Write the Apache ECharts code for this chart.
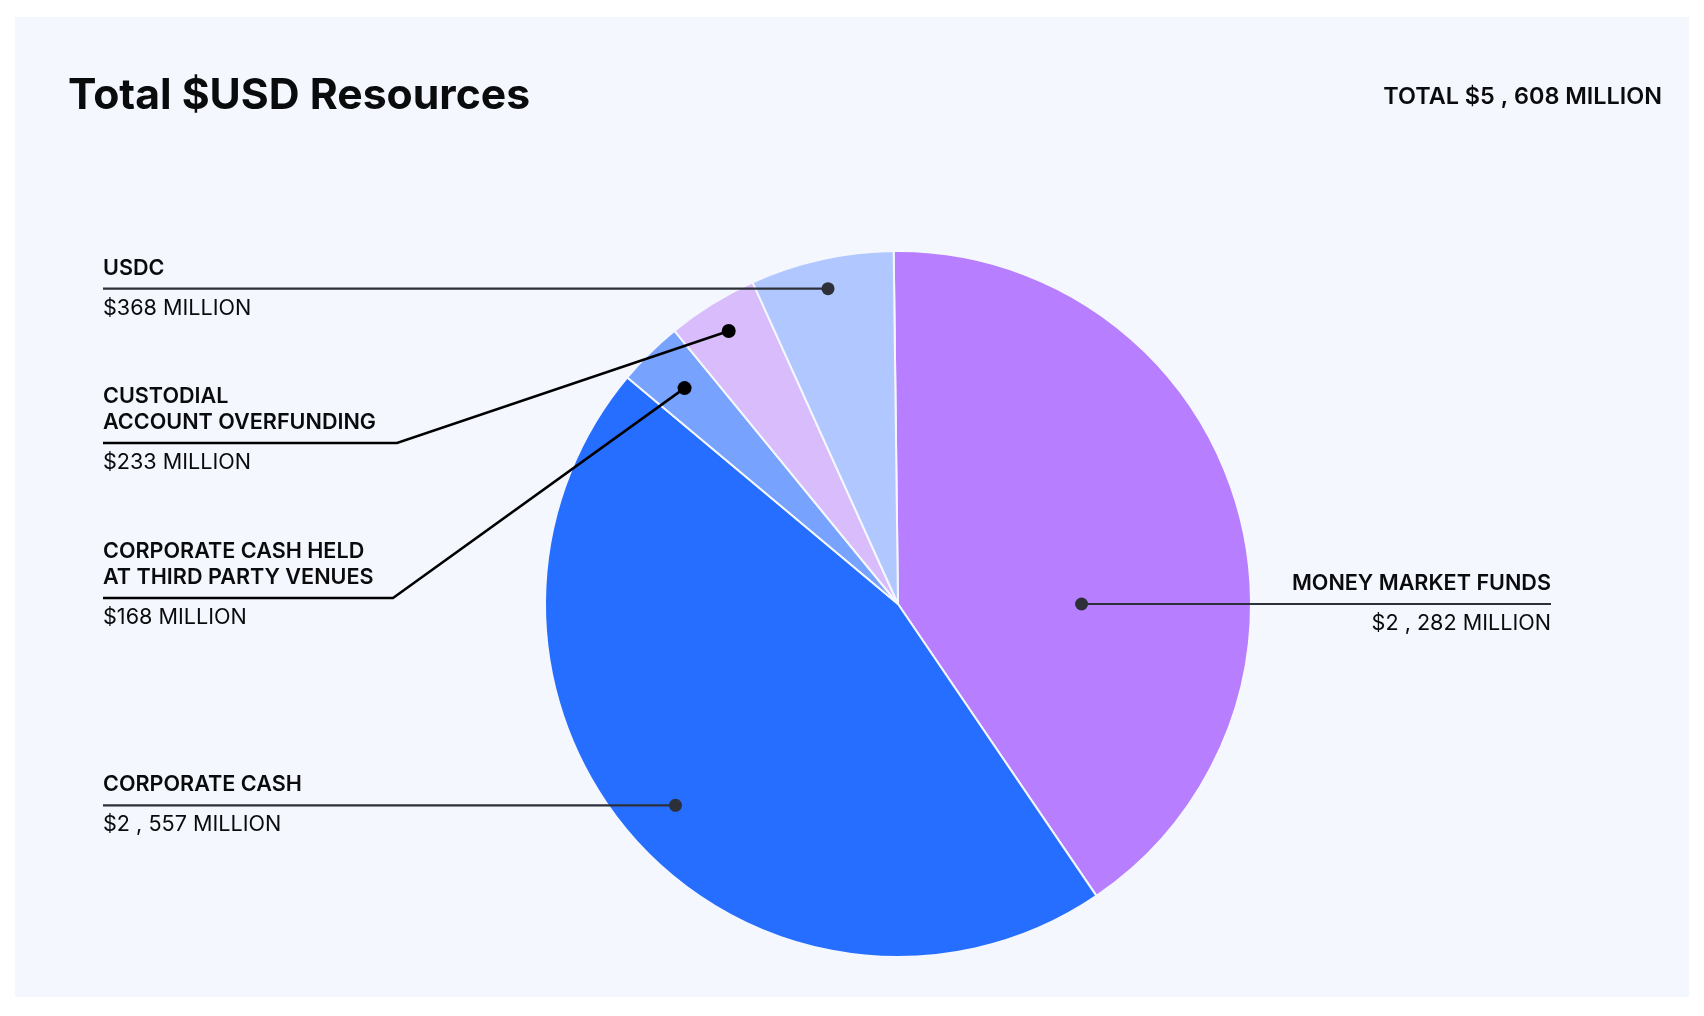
<!DOCTYPE html>
<html>
<head>
<meta charset="utf-8">
<script src="https://cdn.jsdelivr.net/npm/echarts@6/dist/echarts.min.js"></script>
<style>
  html, body { margin: 0; padding: 0; background: #fff; }
  #panel { position: absolute; left: 15px; top: 17px; width: 1674px; height: 980px; background: #f4f7fe; }
  #chart { position: absolute; left: 0; top: 0; width: 1704px; height: 1016px; }
</style>
</head>
<body>
<div id="panel"></div>
<div id="chart"></div>
<script>
// $ million
const categories = ['MONEY MARKET FUNDS', 'CORPORATE CASH', 'CORPORATE CASH HELD\nAT THIRD PARTY VENUES', 'CUSTODIAL\nACCOUNT OVERFUNDING', 'USDC'];
const values = [2282, 2557, 168, 233, 368];
const colors = ['#b77eff', '#266eff', '#77a3ff', '#d9bcfc', '#b0c8ff'];

const total = values.reduce((a, b) => a + b, 0);

// pie geometry + where each callout sits
const CX = 898, CY = 604, R = 353, START = 90.7;
const LEFT_X = 103, RIGHT_X = 1551;
const callouts = [
    { side: 'right', r: 0.52, angle: 0 },
    { side: 'left', r: 0.85 },
    { side: 'left', r: 0.86, lineY: 598, bendX: 393, color: '#000', width: 2.5, dot: 14 },
    { side: 'left', r: 0.91, lineY: 443, bendX: 397, color: '#000', width: 2.5, dot: 14 },
    { side: 'left', r: 0.915 }
];

const fmt = (v) => '$' + (v >= 1000 ? Math.floor(v / 1000) + ' , ' + String(v % 1000).padStart(3, '0') : v) + ' MILLION';

function anchorPoint(i) {
    let before = 0;
    for (let k = 0; k < i; k++) before += values[k];
    const c = callouts[i];
    const deg = c.angle != null ? c.angle : START - (before + values[i] / 2) / total * 360;
    const rad = deg * Math.PI / 180;
    return [CX + c.r * R * Math.cos(rad), CY - c.r * R * Math.sin(rad)];
}
const lineY = (i) => callouts[i].lineY != null ? callouts[i].lineY : anchorPoint(i)[1];
const textX = (i) => callouts[i].side === 'left' ? LEFT_X : RIGHT_X;
const textAlign = (i) => callouts[i].side;

const FONT = 'Inter, "Noto Sans", sans-serif';
const INK = '#0a0b0d';
const LABEL_SIZE = 21.6;

const chart = echarts.init(document.getElementById('chart'), null, { renderer: 'canvas' });

const base = {
    type: 'pie',
    center: [CX, CY],
    radius: [0, R],
    startAngle: START,
    clockwise: true,
    animation: false,
    avoidLabelOverlap: false,
    emphasis: { disabled: true }
};

const option = {
    backgroundColor: 'transparent',
    title: [
        {
            text: 'Total $USD Resources',
            left: 68,
            top: 75,
            padding: 0,
            textStyle: { fontFamily: FONT, fontSize: 42.7, lineHeight: 43, fontWeight: 700, color: INK }
        },
        {
            text: 'TOTAL ' + fmt(total),
            right: 42,
            top: 85,
            padding: 0,
            textStyle: { fontFamily: FONT, fontSize: 23.4, lineHeight: 23, fontWeight: 600, color: INK }
        }
    ],
    series: [
        // slices + names
        Object.assign({}, base, {
            itemStyle: { borderColor: '#f4f7fe', borderWidth: 2 },
            data: categories.map((name, i) => ({
                name: name,
                value: values[i],
                itemStyle: { color: colors[i] }
            })),
            label: {
                show: true,
                position: 'outside',
                formatter: '{b}',
                fontFamily: FONT,
                fontSize: LABEL_SIZE,
                lineHeight: 26,
                fontWeight: 600,
                color: INK
            },
            labelLine: { show: false },
            labelLayout: (p) => ({
                x: textX(p.dataIndex),
                y: lineY(p.dataIndex) - 7.6,
                align: textAlign(p.dataIndex),
                verticalAlign: 'bottom'
            })
        }),
        // value text under the line
        Object.assign({}, base, {
            silent: true,
            itemStyle: { color: 'transparent' },
            data: categories.map((name, i) => ({ name: name, value: values[i] })),
            label: {
                show: true,
                position: 'outside',
                formatter: (p) => fmt(values[p.dataIndex]),
                fontFamily: FONT,
                fontSize: LABEL_SIZE,
                lineHeight: 26,
                fontWeight: 400,
                color: INK
            },
            labelLine: { show: false },
            labelLayout: (p) => ({
                x: textX(p.dataIndex),
                y: lineY(p.dataIndex) + 6.6,
                align: textAlign(p.dataIndex),
                verticalAlign: 'top'
            })
        }),
        // leader lines + dots, drawn above the slices
        Object.assign({}, base, {
            silent: true,
            z: 3,
            itemStyle: { color: 'transparent' },
            data: categories.map((name, i) => {
                const c = callouts[i];
                const d = c.dot || 13;
                return {
                    name: name,
                    value: values[i],
                    label: {
                        width: d, height: d, lineHeight: d, borderRadius: d / 2,
                        backgroundColor: c.color || '#2e3039'
                    },
                    labelLine: { lineStyle: { color: c.color || '#2e3039', width: c.width || 2.2 } }
                };
            }),
            label: {
                show: true,
                position: 'outside',
                formatter: ' ',
                fontSize: 1,
                padding: 0
            },
            labelLine: { show: true, length: 10, length2: 10 },
            labelLayout: (p) => {
                const i = p.dataIndex;
                const a = anchorPoint(i);
                const y = lineY(i);
                const c = callouts[i];
                const mid = c.bendX != null ? c.bendX : (a[0] + textX(i)) / 2;
                return {
                    x: a[0],
                    y: a[1],
                    align: 'center',
                    verticalAlign: 'middle',
                    labelLinePoints: [[textX(i), y], [mid, y], a]
                };
            }
        })
    ]
};

chart.setOption(option);
</script>
</body>
</html>
